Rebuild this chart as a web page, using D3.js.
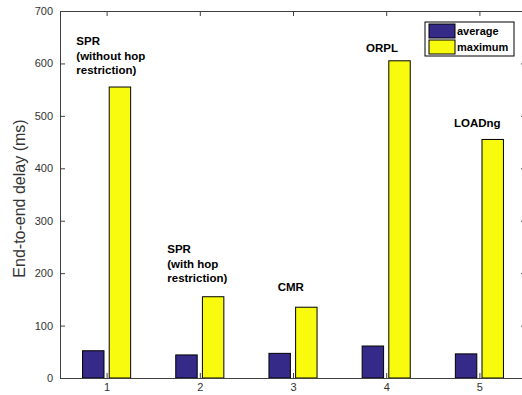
<!DOCTYPE html>
<html lang="en">
  <head>
    <meta charset="UTF-8">
    <script src="https://cdn.jsdelivr.net/npm/d3@7/dist/d3.min.js"></script>
    <title>End-to-end delay</title>
    <style>
      body { margin: 0; background: #fff; }
    </style>
  </head>
  <body>
    <div id="chart"></div>
    <script>

// chart data
const groups   = [1, 2, 3, 4, 5];
const average  = [52, 44, 47, 61, 46];
const maximum  = [555, 155, 135, 605, 455];
const yTicks   = [0, 100, 200, 300, 400, 500, 600, 700];
const seriesNames = ["average", "maximum"];

// annotation labels (data coords: x, y of first line baseline)
const labelLines = [
  ["SPR", "(without hop", "restriction)"],
  ["SPR", "(with hop", "restriction)"],
  ["CMR"],
  ["ORPL"],
  ["LOADng"]
];
const labelX = [0.675, 1.651, 2.836, 3.783, 4.727];
const labelY = [635, 238, 165, 622, 479];

const width  = 522;
const height = 395;
const margin = { left: 60, top: 11, right: -4, bottom: 17 };

const colours = ["#352a87", "#f9fb0e"];
const axisColour = "#404040";

const svg = d3
  .select("#chart")
  .append("svg")
  .attr("width", width)
  .attr("height", height)
  .attr("style", "font-family: 'Liberation Sans', Arial, sans-serif;");

const x = d3.scaleLinear()
  .domain([0.5, 5.5])
  .range([margin.left, width - margin.right]);

const y = d3.scaleLinear()
  .domain([0, 700])
  .range([height - margin.bottom, margin.top]);

const barW = 0.23;    // width of one bar in x units
const offset = 0.143; // distance of bar centre from group centre

// bars
const series = [average, maximum];
series.forEach((vals, s) => {
  svg.append("g")
    .selectAll("rect")
    .data(groups)
    .join("rect")
      .attr("x", (d, i) => x(d + (s === 0 ? -offset : offset) - barW / 2))
      .attr("width", x(barW) - x(0))
      .attr("y", (d, i) => y(vals[i]))
      .attr("height", (d, i) => y(0) - y(vals[i]))
      .attr("fill", colours[s])
      .attr("stroke", "#000")
      .attr("stroke-width", 1);
});

// axes
const tickLen = 5;
const yLeft = d3.axisLeft(y).tickValues(yTicks).tickSizeInner(-tickLen).tickSizeOuter(0).tickPadding(7);
const yRight = d3.axisRight(y).tickValues(yTicks).tickSizeInner(-tickLen).tickSizeOuter(0).tickFormat("");
const xBottom = d3.axisBottom(x).tickValues(groups).tickFormat(d3.format("d"))
  .tickSizeInner(-tickLen).tickSizeOuter(0).tickPadding(5);
const xTop = d3.axisTop(x).tickValues(groups).tickSizeInner(-tickLen).tickSizeOuter(0).tickFormat("");

function styleAxis(g) {
  g.select(".domain").attr("stroke", axisColour);
  g.selectAll(".tick line").attr("stroke", axisColour);
  g.selectAll(".tick text")
    .attr("fill", "#333")
    .attr("font-size", 11)
    .attr("font-family", "'Liberation Sans', Arial, sans-serif");
}

svg.append("g").attr("transform", `translate(${x(0.5)},0)`).call(yLeft).call(styleAxis);
svg.append("g").attr("transform", `translate(${x(5.5)},0)`).call(yRight).call(styleAxis);
svg.append("g").attr("transform", `translate(0,${y(0)})`).call(xBottom).call(styleAxis);
svg.append("g").attr("transform", `translate(0,${y(700)})`).call(xTop).call(styleAxis);

// y axis title
svg.append("text")
  .attr("transform", `translate(25,${(y(0) + y(700)) / 2 + 4}) rotate(-90)`)
  .attr("text-anchor", "middle")
  .attr("font-size", 16)
  .attr("fill", "#333")
  .text("End-to-end delay (ms)");

// annotations
labelLines.forEach((lines, i) => {
  const t = svg.append("text")
    .attr("x", x(labelX[i]))
    .attr("y", y(labelY[i]))
    .attr("font-size", 11.5)
    .attr("font-weight", "bold")
    .attr("fill", "#000");
  lines.forEach((line, j) => {
    t.append("tspan")
      .attr("x", x(labelX[i]))
      .attr("dy", j === 0 ? 0 : 14.5)
      .text(line);
  });
});

// legend
const legend = svg.append("g").attr("transform", "translate(425,22)");
legend.append("rect")
  .attr("width", 89)
  .attr("height", 34)
  .attr("fill", "#fff")
  .attr("stroke", "#000")
  .attr("stroke-width", 1);
seriesNames.forEach((name, i) => {
  legend.append("rect")
    .attr("x", 4)
    .attr("y", 2 + i * 16)
    .attr("width", 26)
    .attr("height", 14)
    .attr("fill", colours[i])
    .attr("stroke", "#000");
  legend.append("text")
    .attr("x", 32)
    .attr("y", 13 + i * 16)
    .attr("font-size", 11)
    .attr("font-weight", "bold")
    .text(name);
});

    </script>
  </body>
</html>
